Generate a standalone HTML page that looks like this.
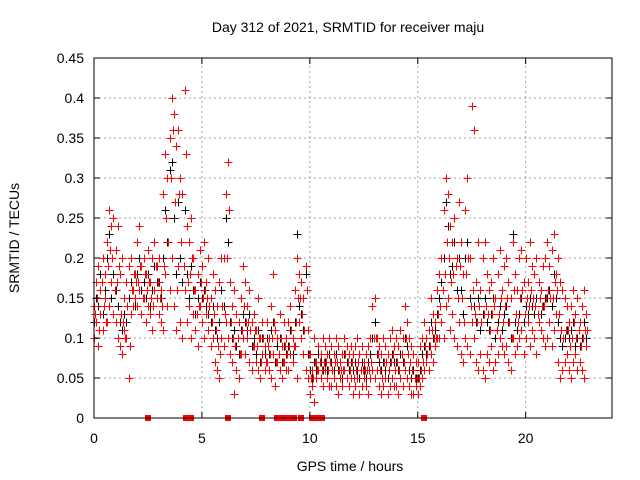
<!DOCTYPE html>
<html><head><meta charset="utf-8"><style>
body{margin:0;background:#fff;}
svg{display:block;font-family:"Liberation Sans",sans-serif;}
</style></head><body>
<svg id="chart" width="640" height="480">
<text x="348" y="32" font-size="14" text-anchor="middle">Day 312 of 2021, SRMTID for receiver maju</text>
<text x="350" y="471" font-size="14" text-anchor="middle">GPS time / hours</text>
<text x="19" y="238" font-size="14" text-anchor="middle" transform="rotate(-90 19 238)">SRMTID / TECUs</text>
<g id="grid"></g>
<g id="marks" shape-rendering="crispEdges"></g>
<g id="axes"></g>
</svg>
<script>
const xTicks=[0,5,10,15,20];
const yTicks=[0,0.05,0.1,0.15,0.2,0.25,0.3,0.35,0.4,0.45];
const yTickLabels=["0","0.05","0.1","0.15","0.2","0.25","0.3","0.35","0.4","0.45"];
const hours=[];for(let i=0;i<=228;i++)hours.push(+(i/10).toFixed(1));
const hoursC=[];for(let i=0;i<=228;i++)hoursC.push(+(i/10+0.05).toFixed(2));
const redA=[.14,.17,.19,.16,.2,.18,.22,.26,.24,.25,.21,.24,.18,.2,.15,.17,.19,.2,.16,.18,.22,.24,.19,.2,.18,.21,.17,.2,.22,.19,.2,.16,.28,.33,.3,.35,.4,.38,.34,.36,.3,.28,.41,.24,.22,.25,.2,.16,.18,.21,.19,.22,.17,.2,.15,.18,.16,.14,.17,.2,.2,.28,.32,.17,.14,.16,.13,.12,.15,.19,.17,.14,.16,.12,.13,.11,.15,.1,.12,.09,.12,.1,.14,.18,.11,.1,.13,.09,.12,.1,.12,.14,.1,.16,.2,.18,.17,.15,.19,.11,.08,.06,.1,.07,.09,.08,.1,.09,.08,.1,.09,.08,.1,.09,.07,.08,.1,.09,.08,.09,.08,.09,.1,.08,.09,.07,.08,.09,.1,.14,.15,.1,.09,.08,.1,.09,.08,.1,.11,.09,.1,.09,.11,.1,.14,.12,.1,.09,.08,.07,.07,.09,.1,.12,.1,.11,.15,.13,.12,.16,.18,.2,.26,.3,.28,.24,.22,.25,.2,.27,.22,.18,.26,.3,.2,.39,.36,.17,.22,.16,.2,.22,.18,.16,.17,.2,.15,.18,.21,.16,.19,.2,.17,.15,.22,.18,.16,.2,.21,.17,.2,.17,.22,.19,.18,.2,.17,.16,.19,.2,.22,.19,.21,.23,.18,.2,.17,.16,.15,.14,.12,.14,.16,.13,.15,.12,.14,.16,.13];
const redB=[.1,.12,.09,.13,.11,.15,.12,.14,.17,.13,.12,.1,.09,.08,.11,.1,.05,.13,.14,.15,.14,.16,.13,.15,.12,.14,.13,.11,.16,.15,.13,.12,.11,.18,.14,.16,.2,.14,.11,.19,.12,.1,.16,.12,.14,.1,.13,.11,.09,.14,.12,.1,.13,.11,.09,.1,.07,.06,.05,.1,.09,.12,.1,.08,.07,.03,.06,.05,.08,.1,.08,.1,.07,.06,.09,.07,.06,.05,.08,.06,.07,.06,.05,.08,.04,.07,.06,.05,.07,.06,.06,.08,.07,.09,.05,.12,.1,.08,.06,.05,.03,.04,.02,.05,.06,.05,.04,.06,.05,.04,.04,.05,.04,.03,.05,.04,.06,.05,.04,.05,.03,.04,.05,.03,.04,.05,.04,.03,.05,.06,.05,.06,.04,.03,.04,.05,.03,.04,.05,.04,.04,.03,.05,.04,.06,.05,.04,.03,.03,.04,.03,.04,.05,.06,.07,.06,.08,.07,.09,.1,.1,.12,.1,.14,.15,.11,.13,.1,.09,.12,.08,.07,.1,.09,.08,.12,.1,.07,.06,.08,.06,.05,.08,.07,.09,.06,.07,.08,.1,.09,.08,.09,.07,.06,.1,.08,.09,.1,.11,.08,.1,.12,.09,.11,.1,.08,.12,.11,.1,.09,.1,.12,.09,.11,.13,.07,.05,.06,.07,.08,.06,.05,.07,.08,.06,.07,.06,.05,.09];
const redC=[.13,.15,.11,.17,.14,.12,.19,.21,.2,.16,.17,.19,.13,.12,.1,.14,.09,.16,.18,.17,.17,.19,.15,.18,.16,.17,.15,.14,.19,.17,.15,.14,.19,.25,.22,.3,.36,.27,.16,.28,.22,.19,.33,.17,.18,.2,.16,.13,.14,.17,.15,.16,.15,.14,.12,.13,.11,.09,.08,.14,.13,.2,.26,.12,.1,.09,.1,.08,.11,.14,.12,.12,.11,.09,.11,.09,.1,.07,.1,.07,.09,.08,.1,.12,.07,.08,.1,.07,.09,.08,.09,.11,.09,.12,.15,.15,.13,.11,.16,.08,.05,.05,.07,.06,.07,.06,.07,.07,.06,.07,.06,.07,.07,.06,.06,.06,.08,.07,.06,.07,.05,.06,.07,.06,.06,.06,.06,.06,.07,.1,.1,.08,.06,.05,.07,.07,.06,.07,.08,.06,.07,.06,.08,.07,.1,.08,.07,.06,.05,.05,.05,.06,.07,.09,.08,.09,.11,.1,.1,.13,.14,.16,.18,.22,.2,.17,.18,.19,.15,.19,.15,.12,.18,.2,.14,.16,.13,.12,.14,.12,.13,.14,.13,.11,.13,.14,.11,.13,.15,.12,.14,.15,.12,.1,.16,.13,.12,.15,.16,.13,.15,.14,.16,.15,.14,.13,.15,.14,.14,.15,.16,.15,.15,.17,.16,.13,.11,.1,.11,.11,.09,.1,.12,.1,.11,.09,.1,.11,.11];
const blackV=[.12,.15,.14,.18,.13,.16,.2,.23,.15,.18,.16,.14,.12,.11,.13,.12,.15,.17,.16,.14,.18,.2,.16,.17,.15,.18,.14,.16,.19,.17,.17,.15,.2,.26,.22,.31,.32,.25,.18,.27,.2,.17,.26,.18,.15,.19,.16,.13,.15,.17,.15,.16,.14,.13,.12,.14,.11,.1,.12,.16,.14,.25,.22,.12,.1,.11,.09,.08,.11,.13,.12,.11,.13,.09,.1,.08,.11,.07,.1,.08,.1,.08,.11,.12,.07,.09,.1,.07,.09,.08,.09,.11,.08,.12,.23,.14,.13,.11,.18,.08,.06,.05,.07,.06,.08,.07,.06,.07,.06,.08,.07,.06,.08,.06,.07,.05,.08,.07,.06,.07,.06,.07,.06,.05,.07,.06,.05,.07,.08,.1,.12,.08,.07,.06,.07,.06,.05,.07,.08,.07,.07,.06,.08,.07,.1,.09,.06,.05,.06,.05,.05,.06,.08,.09,.08,.09,.12,.1,.11,.13,.15,.17,.2,.27,.24,.18,.19,.22,.16,.2,.16,.13,.2,.22,.15,.12,.14,.12,.15,.11,.13,.15,.12,.11,.13,.15,.1,.12,.14,.11,.13,.14,.12,.1,.23,.12,.11,.13,.15,.12,.14,.13,.15,.14,.13,.15,.12,.13,.14,.15,.15,.16,.14,.18,.15,.12,.1,.09,.1,.11,.1,.11,.12,.09,.1,.09,.1,.12,.1];
const zeroHours=[2.5,4.25,4.5,6.2,7.8,8.5,8.65,8.8,8.95,9.1,9.25,9.6,10.1,10.3,10.55,15.3];
const X0=94,X1=612,Y0=418,Y1=58,XMAX=24,YMAX=0.45;
const sx=h=>X0+(X1-X0)*h/XMAX, sy=v=>Y0-(Y0-Y1)*v/YMAX;
const NS="http://www.w3.org/2000/svg";
function mk(t,a,p){const e=document.createElementNS(NS,t);for(const k in a)e.setAttribute(k,a[k]);p.appendChild(e);return e;}
const grid=document.getElementById('grid'),marks=document.getElementById('marks'),axes=document.getElementById('axes');
yTicks.forEach((v,i)=>{const y=sy(v);
 if(i>0&&i<yTicks.length-1){const l=mk('line',{x1:X0,x2:X1,y1:y,y2:y,stroke:'#a0a0a0','stroke-dasharray':'2,3'},grid);
 
 }
 mk('line',{x1:X0,x2:X0+6,y1:y,y2:y,stroke:'#000'},axes);
 mk('line',{x1:X1,x2:X1-6,y1:y,y2:y,stroke:'#000'},axes);
 const t=mk('text',{x:84,y:y+5,'font-size':14,'text-anchor':'end'},axes);t.textContent=yTickLabels[i];
 
 });
xTicks.forEach(h=>{const x=sx(h);
 if(h>0){const l=mk('line',{x1:x,x2:x,y1:Y0,y2:Y1,stroke:'#a0a0a0','stroke-dasharray':'2,3'},grid);
 
 }
 mk('line',{x1:x,x2:x,y1:Y0,y2:Y0-6,stroke:'#000'},axes);
 mk('line',{x1:x,x2:x,y1:Y1,y2:Y1+6,stroke:'#000'},axes);
 const t=mk('text',{x:x,y:443,'font-size':14,'text-anchor':'middle'},axes);t.textContent=String(h);
 
 });
mk('rect',{x:X0,y:Y1,width:X1-X0,height:Y0-Y1,fill:'none',stroke:'#000','stroke-width':1},axes);
function plus(h,v,c){const x=Math.round(sx(h))+0.5,y=Math.round(sy(v))+0.5;
 const p=mk('path',{d:`M${x-4} ${y}H${x+4}M${x} ${y-4}V${y+4}`,stroke:c,'stroke-width':1,fill:'none'},marks);
 
 }
hours.forEach((h,i)=>{if(blackV[i]!==undefined)plus(h,blackV[i],'#000');});
hours.forEach((h,i)=>{if(redA[i]!==undefined)plus(h,redA[i],'#f00');if(redB[i]!==undefined)plus(h,redB[i],'#f00');});
hoursC.forEach((h,i)=>{if(redC[i]!==undefined)plus(h,redC[i],'#f00');});
zeroHours.forEach(h=>{const r=mk('rect',{x:Math.round(sx(h))-3,y:Y0-3,width:6,height:6,fill:'#f00'},marks);
 
 });
</script>
</body></html>
